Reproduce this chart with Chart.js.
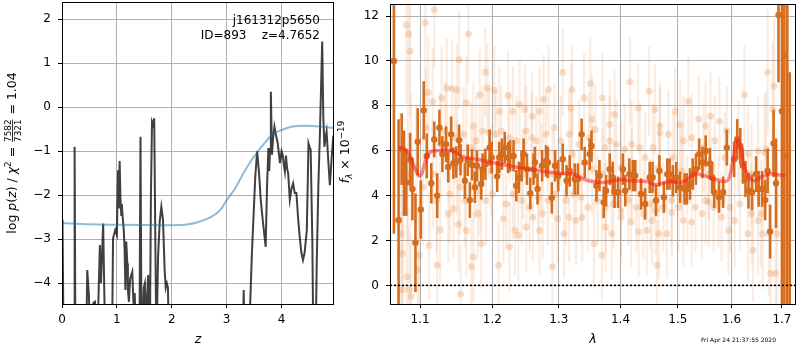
<!DOCTYPE html>
<html>
<head>
<meta charset="utf-8">
<script src="https://cdn.jsdelivr.net/npm/chart.js@4.4.1/dist/chart.umd.min.js"></script>
<style>
  body { margin: 0; background: #fff; width: 800px; height: 350px; overflow: hidden; position: relative; font-family: "DejaVu Sans", sans-serif; }
  canvas { position: absolute; top: 0; }
  #pz { left: 0; }
  #spec { left: 335px; }
  .note { position: absolute; right: 480px; font-size: 12px; line-height: 14px; white-space: pre; text-align: right; color: #000; }
  #stamp { position: absolute; left: 701px; top: 336px; font-size: 6px; line-height: 8px; color: #000; white-space: pre; }
</style>
</head>
<body>
<canvas id="pz" width="340" height="350"></canvas>
<canvas id="spec" width="465" height="350"></canvas>
<div class="note" style="top:12.5px">j161312p5650</div>
<div class="note" style="top:28.2px">ID=893    z=4.7652</div>
<div id="stamp">Fri Apr 24 21:37:55 2020</div>
<script>
// ---- redshift probability panel ----
const zTicks = [0, 1, 2, 3, 4];
const logpTicks = [-4, -3, -2, -1, 0, 1, 2];

// [z, log p(z)]; -5.5 marks values that fall below the plotted range
const pzCurve = [
  [0.0, -2.55], [0.01, -2.75], [0.03, -5.5], [0.22, -5.5], [0.23, -0.9], [0.245, -5.5],
  [0.44, -5.5], [0.46, -3.7], [0.49, -4.27], [0.52, -5.5], [0.57, -4.45], [0.6, -4.42],
  [0.63, -5.5], [0.65, -5.0], [0.69, -3.13], [0.71, -3.99], [0.75, -2.64], [0.77, -4.15],
  [0.79, -5.5], [0.91, -5.5], [0.93, -2.98], [0.97, -2.79], [1.0, -2.9], [1.02, -1.43],
  [1.035, -2.3], [1.05, -1.22], [1.065, -2.1], [1.08, -2.45], [1.09, -2.2], [1.1, -2.41],
  [1.125, -2.79], [1.14, -3.2], [1.155, -4.15], [1.17, -3.05], [1.19, -3.55], [1.2, -4.15],
  [1.22, -4.42], [1.24, -3.9], [1.28, -3.74], [1.3, -4.4], [1.325, -4.22], [1.35, -5.5],
  [1.41, -5.5], [1.43, -0.67], [1.45, -5.5], [1.49, -4.1], [1.51, -4.0], [1.53, -5.5],
  [1.55, -4.3], [1.57, -3.81], [1.6, -5.5], [1.62, -2.0], [1.64, -0.33], [1.66, -0.4],
  [1.68, -0.25], [1.7, -3.0], [1.72, -5.5], [1.75, -3.4], [1.78, -2.6], [1.81, -2.26],
  [1.84, -2.56], [1.87, -3.7], [1.89, -4.1], [1.91, -4.0], [1.93, -4.1], [1.95, -5.5],
  [3.29, -5.5], [3.31, -4.15], [3.33, -5.5], [3.40, -5.5], [3.46, -3.3], [3.52, -1.6],
  [3.555, -1.0], [3.59, -1.5], [3.62, -2.1], [3.66, -2.6], [3.71, -3.17], [3.735, -1.8],
  [3.76, -0.93], [3.775, -1.45], [3.79, -0.95], [3.805, 0.35], [3.825, -1.08], [3.845, -0.7],
  [3.87, -0.44], [3.9, -0.65], [3.93, -0.82], [3.955, -1.1], [3.97, -1.27], [4.0, -1.0],
  [4.02, -1.08], [4.04, -1.3], [4.06, -1.46], [4.08, -1.1], [4.10, -1.39], [4.12, -1.5],
  [4.15, -2.1], [4.18, -1.85], [4.21, -1.73], [4.24, -1.95], [4.27, -1.95], [4.30, -2.5],
  [4.33, -2.94], [4.36, -3.3], [4.39, -3.47], [4.42, -3.3], [4.46, -2.79], [4.48, -1.5],
  [4.49, -0.82], [4.51, -0.9], [4.53, -0.97], [4.56, -3.0], [4.58, -5.5], [4.62, -5.5],
  [4.64, -3.55], [4.67, -1.8], [4.70, -0.52], [4.74, 1.49], [4.76, -0.2], [4.78, -0.9],
  [4.80, -0.7], [4.82, -0.55], [4.85, -1.2], [4.88, -1.77], [4.91, -1.2], [4.94, -0.67],
  [4.97, -0.6]
];

// [z, prior]
const priorCurve = [
  [0, -2.63], [0.5, -2.66], [1, -2.67], [2, -2.68], [2.3, -2.66], [2.5, -2.6], [2.7, -2.5],
  [2.88, -2.34], [3.0, -2.11], [3.15, -1.85], [3.27, -1.58], [3.4, -1.3], [3.54, -1.05],
  [3.7, -0.8], [3.85, -0.6], [4.0, -0.52], [4.2, -0.44], [4.45, -0.42], [4.7, -0.44], [4.96, -0.47]
];

// ---- spectrum panel ----
const lamTicks = [1.1, 1.2, 1.3, 1.4, 1.5, 1.6, 1.7];
const fluxTicks = [0, 2, 4, 6, 8, 10, 12];

// binned spectrum: [lambda, flux, error]
const specPts = [
  [1.066, 10.0, 7.7], [1.072, 2.9, 4.5], [1.076, 6.07, 1.6], [1.079, 5.0, 1.9], [1.082, 4.6, 1.5],
  [1.087, 5.6, 1.2], [1.090, 4.3, 1.4], [1.094, 1.9, 2.2], [1.097, 6.4, 1.5], [1.101, 3.38, 1.3],
  [1.105, 7.8, 1.3], [1.109, 5.77, 1.0], [1.115, 4.55, 0.9], [1.119, 6.5, 0.8], [1.123, 4.0, 1.0],
  [1.126, 7.03, 0.8], [1.130, 5.85, 0.8], [1.135, 6.29, 0.8], [1.138, 5.28, 0.7], [1.142, 6.73, 0.8],
  [1.145, 5.45, 0.7], [1.149, 5.5, 0.7], [1.153, 6.47, 0.7], [1.155, 5.6, 0.7], [1.161, 4.66, 0.8],
  [1.165, 5.58, 0.7], [1.168, 3.8, 0.8], [1.171, 5.37, 0.7], [1.175, 4.37, 0.7], [1.178, 5.33, 0.7],
  [1.184, 4.52, 0.7], [1.186, 5.18, 0.7], [1.190, 5.4, 0.7], [1.196, 6.14, 0.8], [1.199, 5.7, 0.7],
  [1.207, 4.86, 0.7], [1.210, 5.7, 0.7], [1.214, 5.85, 0.7], [1.218, 6.14, 0.7], [1.223, 5.7, 0.7],
  [1.226, 5.77, 0.7], [1.231, 5.77, 0.7], [1.235, 4.44, 0.7], [1.239, 4.81, 0.7], [1.243, 5.33, 0.7],
  [1.246, 5.85, 0.7], [1.251, 5.18, 0.7], [1.256, 4.1, 0.7], [1.261, 5.18, 0.7], [1.263, 5.48, 0.7],
  [1.267, 4.3, 0.7], [1.274, 5.33, 0.7], [1.280, 5.55, 0.7], [1.283, 5.48, 0.7], [1.289, 3.9, 0.7],
  [1.294, 5.33, 0.7], [1.299, 4.89, 0.7], [1.306, 5.62, 0.7], [1.312, 4.66, 0.7], [1.317, 5.1, 0.7],
  [1.325, 4.74, 0.7], [1.330, 4.74, 0.7], [1.336, 6.73, 0.7], [1.341, 5.48, 0.7], [1.349, 5.85, 0.7],
  [1.352, 6.21, 0.7], [1.360, 4.44, 0.7], [1.365, 4.89, 0.7], [1.372, 3.7, 0.7], [1.376, 4.22, 0.7],
  [1.382, 5.18, 0.7], [1.387, 4.81, 0.7], [1.390, 4.15, 0.7], [1.396, 4.15, 0.7], [1.404, 5.18, 0.7],
  [1.408, 4.22, 0.7], [1.415, 4.96, 0.7], [1.421, 4.89, 0.7], [1.425, 4.89, 0.7], [1.435, 4.07, 0.7],
  [1.442, 3.63, 0.7], [1.450, 4.81, 0.7], [1.455, 4.81, 0.7], [1.461, 3.78, 0.7], [1.467, 5.1, 0.7],
  [1.475, 3.93, 0.7], [1.481, 4.96, 0.7], [1.485, 4.96, 0.7], [1.491, 4.66, 0.7], [1.497, 4.81, 0.7],
  [1.504, 4.37, 0.7], [1.512, 4.3, 0.7], [1.516, 4.3, 0.7], [1.522, 4.52, 0.7], [1.527, 4.96, 0.7],
  [1.533, 5.18, 0.7], [1.539, 5.85, 0.7], [1.545, 5.48, 0.7], [1.551, 5.99, 0.7], [1.559, 5.43, 0.7],
  [1.563, 4.81, 0.7], [1.567, 4.15, 0.7], [1.576, 3.93, 0.7], [1.584, 4.15, 0.7], [1.591, 6.14, 0.8],
  [1.605, 5.62, 0.8], [1.611, 6.51, 0.9], [1.617, 6.21, 0.8], [1.622, 5.33, 0.8], [1.627, 4.74, 0.8],
  [1.633, 4.22, 0.8], [1.640, 4.15, 0.8], [1.648, 4.96, 0.8], [1.653, 4.3, 0.8], [1.660, 4.3, 0.8],
  [1.666, 3.8, 0.9], [1.671, 5.1, 1.0], [1.676, 2.4, 1.2], [1.683, 6.33, 1.5], [1.688, 4.55, 2.0],
  [1.693, 12.05, 3.0], [1.700, 7.76, 9.0], [1.705, 10.25, 12], [1.711, 5.75, 12], [1.716, -2.0, 11.5]
];

// individual exposures: [lambda, flux, error]
const faintPts = [
  [1.075, 2.3, 3.2], [1.077, 1.42, 3.0], [1.077, -0.2, 3.5], [1.082, 11.6, 3.5], [1.083, 0.38, 3.0],
  [1.084, 4.96, 3.0], [1.085, 11.2, 3.2], [1.086, -0.2, 2.8], [1.087, 10.45, 3.0], [1.088, 5.55, 3.0],
  [1.088, -0.5, 2.8], [1.095, 5.25, 2.8], [1.097, 0.68, 2.6], [1.099, 1.34, 2.6], [1.104, 4.37, 2.6],
  [1.107, 11.7, 2.8], [1.108, 7.03, 2.6], [1.111, 8.6, 2.5], [1.112, 1.79, 2.4], [1.117, 8.2, 2.4],
  [1.117, 4.96, 2.4], [1.119, 12.3, 2.6], [1.122, 3.78, 2.3], [1.123, 0.9, 2.4], [1.127, 6.29, 2.3],
  [1.127, 2.48, 2.3], [1.129, 8.35, 2.3], [1.134, 6.88, 2.2], [1.136, 8.8, 2.2], [1.138, 3.19, 2.2],
  [1.140, 4.07, 2.2], [1.143, 8.77, 2.2], [1.145, 3.41, 2.2], [1.147, 6.58, 2.1], [1.150, 8.72, 2.1],
  [1.150, 5.25, 2.1], [1.152, 2.72, 2.1], [1.153, 10.05, 2.2], [1.154, 4.37, 2.1], [1.155, -0.38, 2.2],
  [1.159, 6.73, 2.1], [1.161, 3.78, 2.1], [1.163, 8.13, 2.1], [1.163, 2.45, 2.1], [1.166, 11.2, 2.2],
  [1.170, 6.14, 2.0], [1.170, 0.83, 2.1], [1.173, 7.1, 2.0], [1.173, 1.27, 2.0], [1.175, 4.96, 2.0],
  [1.177, 6.44, 2.0], [1.179, 3.19, 2.0], [1.182, 8.5, 2.0], [1.182, 4.22, 2.0], [1.184, 1.86, 2.0],
  [1.186, 6.88, 2.0], [1.190, 9.5, 2.0], [1.191, 3.78, 2.0], [1.193, 8.8, 2.0], [1.195, 6.8, 2.0],
  [1.198, 5.1, 2.0], [1.200, 4.07, 2.0], [1.203, 8.68, 2.0], [1.205, 6.73, 2.0], [1.209, 0.9, 2.0],
  [1.210, 7.76, 2.0], [1.213, 6.88, 2.0], [1.216, 2.97, 2.0], [1.220, 3.63, 2.0], [1.223, 8.46, 2.0],
  [1.225, 6.58, 2.0], [1.225, 1.71, 2.0], [1.230, 7.76, 2.0], [1.230, 4.07, 2.0], [1.233, 2.45, 2.0],
  [1.235, 6.44, 2.0], [1.238, 2.23, 2.0], [1.240, 8.06, 2.0], [1.243, 3.78, 2.0], [1.245, 4.96, 2.0],
  [1.248, 7.84, 2.0], [1.250, 6.88, 2.0], [1.250, 2.6, 2.0], [1.255, 3.48, 2.0], [1.258, 6.58, 2.0],
  [1.259, 7.54, 2.0], [1.260, 3.04, 2.0], [1.265, 6.44, 2.0], [1.268, 3.93, 2.0], [1.270, 7.76, 2.0],
  [1.270, 2.45, 2.0], [1.273, 5.25, 2.0], [1.275, 3.19, 2.0], [1.276, 8.28, 2.0], [1.280, 6.73, 2.0],
  [1.283, 3.78, 2.0], [1.284, 8.72, 2.0], [1.290, 0.83, 2.0], [1.290, 4.96, 2.0], [1.293, 7.03, 2.0],
  [1.295, 4.07, 2.0], [1.298, 2.97, 2.0], [1.303, 6.44, 2.0], [1.306, 9.5, 2.0], [1.308, 2.3, 2.0],
  [1.311, 3.78, 2.0], [1.316, 6.73, 2.0], [1.316, 3.04, 2.0], [1.319, 7.91, 2.0], [1.321, 8.72, 2.0],
  [1.321, 5.85, 2.0], [1.324, 4.07, 2.0], [1.327, 2.89, 2.0], [1.332, 6.29, 2.0], [1.335, 3.93, 2.0],
  [1.337, 3.04, 2.0], [1.340, 8.35, 2.0], [1.346, 3.48, 2.0], [1.348, 6.58, 2.0], [1.350, 9.0, 2.0],
  [1.353, 7.4, 2.0], [1.353, 5.18, 2.0], [1.356, 1.86, 2.0], [1.358, 6.95, 2.0], [1.362, 3.78, 2.0],
  [1.369, 1.34, 2.0], [1.370, 8.35, 2.0], [1.370, 4.96, 2.0], [1.374, 6.14, 2.0], [1.375, 3.48, 2.0],
  [1.375, 2.6, 2.0], [1.382, 7.17, 2.0], [1.382, 6.44, 2.0], [1.385, 2.3, 2.0], [1.388, 3.63, 2.0],
  [1.390, 7.62, 2.0], [1.393, 6.29, 2.0], [1.401, 5.25, 2.0], [1.401, 3.34, 2.0], [1.401, 3.04, 2.0],
  [1.407, 6.07, 2.0], [1.413, 3.78, 2.0], [1.416, 9.08, 2.0], [1.418, 2.82, 2.0], [1.419, 6.29, 2.0],
  [1.419, 4.96, 2.0], [1.427, 3.48, 2.0], [1.430, 7.91, 2.0], [1.431, 2.38, 2.0], [1.433, 6.14, 2.0],
  [1.439, 3.19, 2.0], [1.442, 5.7, 2.0], [1.445, 2.45, 2.0], [1.449, 8.65, 2.0], [1.451, 3.63, 2.0],
  [1.454, 2.89, 2.0], [1.456, 6.14, 2.0], [1.459, 7.84, 2.0], [1.460, 3.34, 2.0], [1.463, 0.9, 2.0],
  [1.466, 5.25, 2.0], [1.466, 2.3, 2.0], [1.468, 7.1, 2.0], [1.468, 6.8, 2.0], [1.474, 3.48, 2.0],
  [1.480, 2.3, 2.0], [1.483, 6.73, 2.0], [1.489, 3.78, 2.0], [1.489, 3.26, 2.0], [1.492, 5.7, 2.0],
  [1.495, 7.76, 2.0], [1.501, 3.48, 2.0], [1.504, 7.17, 2.0], [1.507, 5.1, 2.0], [1.510, 6.44, 2.0],
  [1.510, 2.89, 2.0], [1.517, 3.78, 2.0], [1.519, 8.2, 2.0], [1.525, 6.58, 2.0], [1.525, 2.82, 2.0],
  [1.532, 3.48, 2.0], [1.538, 7.4, 2.0], [1.544, 3.19, 2.0], [1.547, 6.14, 2.0], [1.551, 7.1, 2.0],
  [1.551, 3.78, 2.0], [1.557, 4.96, 2.0], [1.557, 3.7, 2.0], [1.560, 7.54, 2.0], [1.566, 3.48, 2.0],
  [1.568, 6.44, 2.0], [1.575, 3.7, 2.0], [1.577, 7.32, 2.0], [1.581, 3.04, 2.0], [1.587, 5.7, 2.0],
  [1.591, 6.88, 2.0], [1.594, 2.45, 2.0], [1.597, 3.48, 2.0], [1.606, 2.89, 2.1], [1.613, 6.14, 2.1],
  [1.616, 3.63, 2.1], [1.625, 8.5, 2.2], [1.632, 5.85, 2.2], [1.632, 2.3, 2.2], [1.639, 3.19, 2.3],
  [1.639, 4.96, 2.3], [1.642, 1.56, 2.3], [1.652, 5.99, 2.4], [1.652, 2.89, 2.4], [1.658, 3.19, 2.4],
  [1.661, 2.3, 2.5], [1.665, 5.92, 2.6], [1.668, 6.07, 2.6], [1.671, 9.5, 2.8], [1.674, 2.3, 2.8],
  [1.677, 0.53, 3.0], [1.681, 7.84, 3.0], [1.684, 8.87, 3.0], [1.687, 0.53, 3.2], [1.690, 2.3, 3.2]
];

// best-fit template: [lambda, flux]
const modelCurve = [
  [1.072, 6.12], [1.078, 6.1], [1.082, 6.0], [1.086, 5.8], [1.091, 5.4], [1.096, 5.0], [1.099, 4.87],
  [1.102, 4.95], [1.106, 5.4], [1.110, 5.83], [1.115, 5.96], [1.12, 6.0], [1.13, 6.02], [1.135, 6.05],
  [1.145, 5.97], [1.157, 5.75], [1.17, 5.66], [1.185, 5.58], [1.2, 5.48], [1.22, 5.35], [1.25, 5.2],
  [1.27, 5.1], [1.3, 5.0], [1.32, 4.96], [1.33, 4.88], [1.341, 4.71], [1.355, 4.63], [1.369, 4.59],
  [1.385, 4.63], [1.4, 4.71], [1.418, 4.66], [1.435, 4.64], [1.447, 4.62], [1.455, 4.52], [1.461, 4.49],
  [1.47, 4.54], [1.488, 4.63], [1.505, 4.59], [1.515, 4.68], [1.53, 4.96], [1.548, 4.89], [1.565, 4.75],
  [1.579, 4.66], [1.587, 4.63], [1.594, 4.72], [1.600, 5.2], [1.605, 5.83], [1.611, 6.49], [1.615, 6.3],
  [1.619, 5.97], [1.624, 5.4], [1.629, 5.02], [1.638, 4.72], [1.647, 4.68], [1.66, 4.85], [1.676, 4.97],
  [1.692, 4.93], [1.707, 4.9]
];

Chart.defaults.font.family = '"DejaVu Sans"';
Chart.defaults.font.size = 12;
Chart.defaults.color = '#000';

const ORANGE = 'rgb(214, 108, 30)';
const FAINT_DOT = 'rgba(225, 120, 40, 0.24)';
const FAINT_BAR = 'rgba(225, 120, 40, 0.14)';

const toXY = rows => rows.map(([x, y]) => ({ x, y }));
const minus = v => String(v).replace('-', '\u2212');
const gridOpts = { color: '#b0b0b0', lineWidth: 1, tickColor: '#000', tickLength: 4 };

// fixed axis boxes, no extra room for overhanging tick labels
const fitX = s => { s.height = 46; s.paddingLeft = 0; s.paddingRight = 0; };
const fitY = w => s => { s.width = w; s.paddingTop = 0; s.paddingBottom = 0; };

// draws a run of text pieces (mathtext-like) centred on (x, y)
function drawMath(ctx, parts, x, y, rotate) {
  ctx.save();
  ctx.translate(x, y);
  if (rotate) ctx.rotate(-Math.PI / 2);
  ctx.fillStyle = '#000';
  ctx.textBaseline = 'alphabetic';
  let total = 0;
  parts.forEach(p => {
    ctx.font = p.font;
    p.w = p.frac
      ? Math.max(ctx.measureText(p.frac[0]).width, ctx.measureText(p.frac[1]).width) + 2
      : ctx.measureText(p.t).width;
    total += p.w;
  });
  let cx = -total / 2;
  parts.forEach(p => {
    ctx.font = p.font;
    if (p.frac) {
      ctx.textAlign = 'center';
      ctx.fillText(p.frac[0], cx + p.w / 2, -5.5);
      ctx.fillText(p.frac[1], cx + p.w / 2, 4.5);
      ctx.fillRect(cx + 1, -4, p.w - 2, 0.8);
      ctx.textAlign = 'left';
    } else {
      ctx.textAlign = 'left';
      ctx.fillText(p.t, cx, p.dy || 0);
    }
    cx += p.w;
  });
  ctx.restore();
}

const F = '12.5px "DejaVu Sans"';
const FI = 'italic 12.5px "DejaVu Sans"';
const FS = '8.8px "DejaVu Sans"';
const FSI = 'italic 8.8px "DejaVu Sans"';

// axes frame and axis titles
function panelDecor(id, drawTitles) {
  return {
    id,
    afterDraw(chart) {
      const { ctx, chartArea: a } = chart;
      ctx.save();
      ctx.strokeStyle = '#000';
      ctx.lineWidth = 1;
      ctx.strokeRect(a.left + 0.5, a.top + 0.5, a.right - a.left - 1, a.bottom - a.top);
      ctx.restore();
      drawTitles(ctx, a);
    }
  };
}

// vertical error bars under each dataset that carries an `errors` array, plus the zero line
const errorBars = {
  id: 'errorBars',
  beforeDatasetDraw(chart, args) {
    const ds = chart.data.datasets[args.index];
    if (!ds.errors) return;
    const { ctx, chartArea: a, scales: { x, y } } = chart;
    ctx.save();
    ctx.beginPath();
    ctx.rect(a.left, a.top, a.right - a.left, a.bottom - a.top);
    ctx.clip();
    ctx.strokeStyle = ds.errorColor;
    ctx.lineWidth = ds.errorWidth;
    ds.data.forEach((p, i) => {
      const px = x.getPixelForValue(p.x);
      ctx.beginPath();
      ctx.moveTo(px, y.getPixelForValue(p.y - ds.errors[i]));
      ctx.lineTo(px, y.getPixelForValue(p.y + ds.errors[i]));
      ctx.stroke();
    });
    ctx.restore();
  },
  afterDatasetsDraw(chart) {
    const { ctx, chartArea: a, scales: { y } } = chart;
    const py = y.getPixelForValue(0);
    ctx.save();
    ctx.strokeStyle = '#000';
    ctx.lineWidth = 1.6;
    ctx.setLineDash([2, 2]);
    ctx.beginPath();
    ctx.moveTo(a.left, py);
    ctx.lineTo(a.right, py);
    ctx.stroke();
    ctx.restore();
  }
};

new Chart(document.getElementById('pz'), {
  type: 'line',
  data: {
    datasets: [
      {
        data: toXY(priorCurve),
        borderColor: 'rgba(31, 119, 180, 0.5)',
        borderWidth: 2,
        pointRadius: 0,
        cubicInterpolationMode: 'monotone',
        clip: 0,
        order: 1
      },
      {
        data: toXY(pzCurve),
        borderColor: 'rgba(0, 0, 0, 0.75)',
        borderWidth: 2,
        pointRadius: 0,
        tension: 0,
        clip: 0,
        order: 2
      }
    ]
  },
  options: {
    responsive: false,
    animation: false,
    events: [],
    layout: { padding: { top: 2, right: 6, left: 0, bottom: 0 } },
    plugins: { legend: { display: false }, tooltip: { enabled: false } },
    scales: {
      x: {
        type: 'linear',
        min: 0,
        max: 4.955,
        afterBuildTicks: s => { s.ticks = zTicks.map(v => ({ value: v })); },
        afterFit: fitX,
        grid: gridOpts,
        border: { display: false },
        ticks: { padding: 5, maxRotation: 0, callback: v => minus(v) }
      },
      y: {
        min: -4.47,
        max: 2.39,
        afterBuildTicks: s => { s.ticks = logpTicks.map(v => ({ value: v })); },
        afterFit: fitY(62),
        grid: gridOpts,
        border: { display: false },
        ticks: { padding: 7, callback: v => minus(v) }
      }
    }
  },
  plugins: [panelDecor('pzDecor', (ctx, a) => {
    drawMath(ctx, [
      { t: 'log ', font: F }, { t: 'p', font: FI }, { t: '(', font: F }, { t: 'z', font: FI },
      { t: ') / ', font: F }, { t: '\u03c7', font: FI }, { t: '2', font: FS, dy: -5 },
      { t: ' = ', font: F }, { frac: ['7582', '7321'], font: FS }, { t: ' = 1.04', font: F }
    ], 16, 153, true);
    drawMath(ctx, [{ t: 'z', font: FI }], (a.left + a.right) / 2, 343, false);
  })]
});

new Chart(document.getElementById('spec'), {
  type: 'scatter',
  data: {
    datasets: [
      {
        data: toXY(faintPts),
        errors: faintPts.map(r => r[2]),
        errorColor: FAINT_BAR,
        errorWidth: 2.2,
        backgroundColor: FAINT_DOT,
        borderWidth: 0,
        pointRadius: 3.5,
        clip: 0,
        order: 3
      },
      {
        data: toXY(specPts),
        errors: specPts.map(r => r[2]),
        errorColor: ORANGE,
        errorWidth: 2.6,
        backgroundColor: ORANGE,
        borderWidth: 0,
        pointRadius: 3.2,
        clip: 0,
        order: 2
      },
      {
        data: toXY(modelCurve),
        showLine: true,
        borderColor: 'rgba(255, 20, 20, 0.5)',
        borderWidth: 3.5,
        pointRadius: 0,
        tension: 0.4,
        clip: 0,
        order: 1
      }
    ]
  },
  options: {
    responsive: false,
    animation: false,
    events: [],
    layout: { padding: { top: 2, right: 1, left: 0, bottom: 0 } },
    plugins: { legend: { display: false }, tooltip: { enabled: false } },
    scales: {
      x: {
        type: 'logarithmic',
        min: 1.061,
        max: 1.729,
        afterBuildTicks: s => { s.ticks = lamTicks.map(v => ({ value: v })); },
        afterFit: fitX,
        grid: gridOpts,
        border: { display: false },
        ticks: { padding: 5, maxRotation: 0, autoSkip: false, callback: v => v.toFixed(1) }
      },
      y: {
        type: 'linear',
        min: -0.83,
        max: 12.54,
        afterBuildTicks: s => { s.ticks = fluxTicks.map(v => ({ value: v })); },
        afterFit: fitY(55),
        grid: gridOpts,
        border: { display: false },
        ticks: { padding: 7, callback: v => minus(v) }
      }
    }
  },
  plugins: [errorBars, panelDecor('specDecor', (ctx, a) => {
    drawMath(ctx, [
      { t: 'f', font: FI }, { t: '\u03bb', font: FSI, dy: 3 }, { t: ' \u00d7 10', font: F },
      { t: '\u221219', font: FS, dy: -5 }
    ], 14, 152, true);
    drawMath(ctx, [{ t: '\u03bb', font: FI }], (a.left + a.right) / 2, 343, false);
  })]
});
</script>
</body>
</html>
